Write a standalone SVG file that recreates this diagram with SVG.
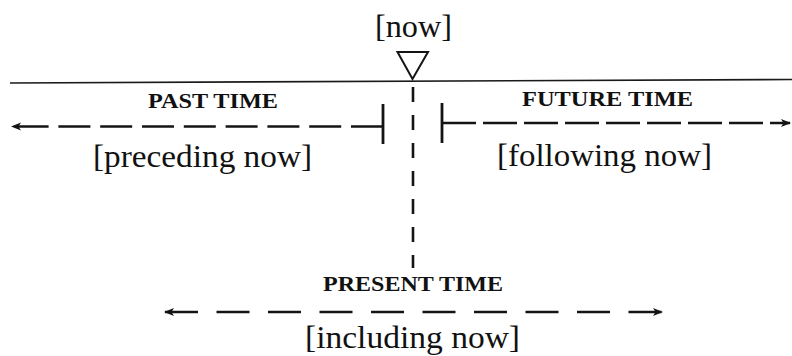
<svg xmlns="http://www.w3.org/2000/svg" width="792" height="356" viewBox="0 0 792 356">
<style>
  .bk{font-family:"Liberation Serif","Times New Roman",serif;font-size:32px;fill:#111;}
  .cap{font-family:"Liberation Serif","Times New Roman",serif;font-size:22px;font-weight:bold;fill:#111;}
  .dash{stroke:#141414;stroke-width:2.6;fill:none;}
  .tick{stroke:#141414;stroke-width:2.8;fill:none;}
</style>
<defs>
  <marker id="arr" viewBox="0 0 10 10" refX="9" refY="5" markerWidth="10" markerHeight="10" markerUnits="userSpaceOnUse" orient="auto-start-reverse">
    <path d="M0,1 L10,5 L0,9 L2.5,5 Z" fill="#141414"/>
  </marker>
</defs>
<rect width="792" height="356" fill="#fff"/>
<g id="connectors">
  <line x1="10" y1="83" x2="792" y2="79.5" stroke="#1a1a1a" stroke-width="1.6"/>
  <line class="dash" x1="413" y1="87" x2="413" y2="268" stroke-dasharray="15 13"/>
  <line class="dash" x1="383" y1="126.5" x2="12" y2="126.5" stroke-dasharray="32 9.8" marker-end="url(#arr)"/>
  <line class="tick" x1="383" y1="104" x2="383" y2="144"/>
  <line class="dash" x1="442" y1="123" x2="790" y2="123" stroke-dasharray="34 7" marker-end="url(#arr)"/>
  <line class="tick" x1="442" y1="103" x2="442" y2="143"/>
  <line class="dash" x1="165" y1="312" x2="662" y2="312" stroke-dasharray="33 18.5" marker-start="url(#arr)" marker-end="url(#arr)"/>
</g>
<g id="now">
  <polygon points="397.5,52 428,52 412.5,79" fill="none" stroke="#141414" stroke-width="2"/>
  <text class="bk" x="413.5" y="37" text-anchor="middle" textLength="77" lengthAdjust="spacingAndGlyphs">[now]</text>
</g>
<g id="past">
  <text class="cap" x="213" y="108" text-anchor="middle" textLength="130" lengthAdjust="spacingAndGlyphs">PAST TIME</text>
  <text class="bk" x="202.5" y="167" text-anchor="middle" textLength="219" lengthAdjust="spacingAndGlyphs">[preceding now]</text>
</g>
<g id="future">
  <text class="cap" x="607.5" y="106" text-anchor="middle" textLength="171" lengthAdjust="spacingAndGlyphs">FUTURE TIME</text>
  <text class="bk" x="604.5" y="166" text-anchor="middle" textLength="215" lengthAdjust="spacingAndGlyphs">[following now]</text>
</g>
<g id="present">
  <text class="cap" x="413" y="291" text-anchor="middle" textLength="180" lengthAdjust="spacingAndGlyphs">PRESENT TIME</text>
  <text class="bk" x="412.5" y="348" text-anchor="middle" textLength="215" lengthAdjust="spacingAndGlyphs">[including now]</text>
</g>
</svg>
